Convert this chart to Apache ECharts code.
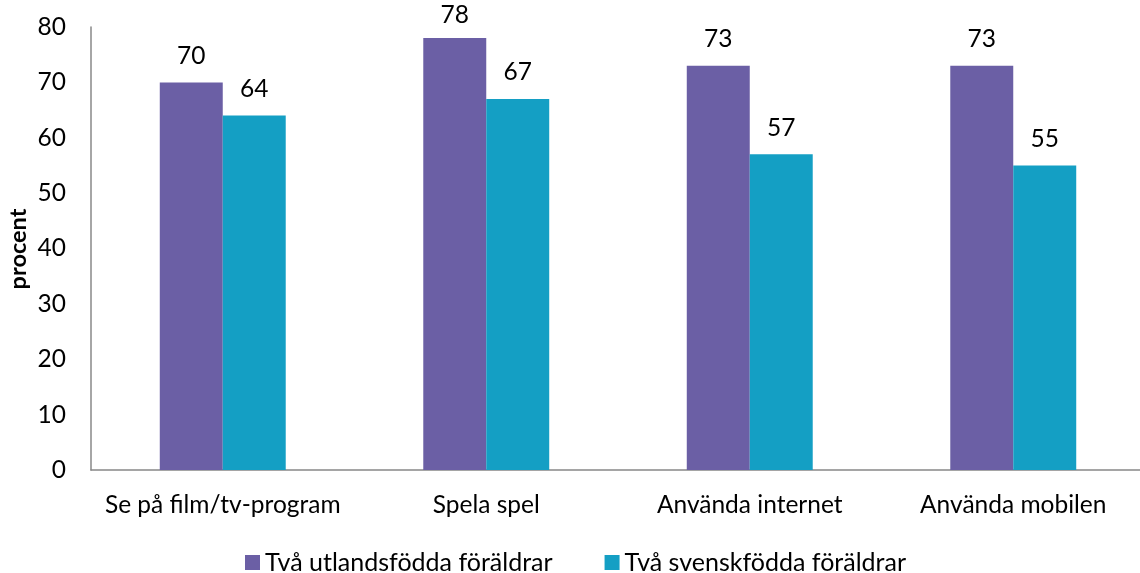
<!DOCTYPE html>
<html><head><meta charset="utf-8">
<script src="https://cdn.jsdelivr.net/npm/echarts@6/dist/echarts.min.js"></script>
<style>html,body{margin:0;padding:0;background:#fff}#c{width:1140px;height:573px}</style>
</head><body><div id="c"></div>
<script>
const categories = ['Se på film/tv-program', 'Spela spel', 'Använda internet', 'Använda mobilen'];
const seriesNames = ['Två utlandsfödda föräldrar', 'Två svenskfödda föräldrar'];
const utlandsfodda = [70, 78, 73, 73];
const svenskfodda = [64, 67, 57, 55];
const yTicks = [0, 10, 20, 30, 40, 50, 60, 70, 80];
const yAxisTitle = 'procent';
const FONT = 'Lato';
const FS = 24.5;
const chart = echarts.init(document.getElementById('c'), null, {renderer: 'canvas'});
const labelStyle = {show: true, position: 'top', color: '#000', fontFamily: FONT, fontSize: FS, distance: 14};
const clampTop = function (p) { if (p.labelRect && p.labelRect.y < 3) return {dy: 3 - p.labelRect.y}; };
chart.setOption({
  animation: false,
  textStyle: {fontFamily: FONT},
  grid: {left: 91, right: -5, top: 27, bottom: 103, containLabel: false, outerBoundsMode: 'none'},
  legend: {
    bottom: -2, left: 245, itemWidth: 15, itemHeight: 15, itemGap: 52, padding: 0,
    icon: 'rect',
    textStyle: {fontFamily: FONT, fontSize: 25, color: '#000'},
    data: seriesNames
  },
  graphic: [{
    type: 'text', x: 18, y: 249, rotation: Math.PI / 2,
    style: {text: yAxisTitle, fontFamily: FONT, fontSize: 23.5, fontWeight: 'bold', fill: '#000', align: 'center', verticalAlign: 'middle'}
  }],
  xAxis: {
    type: 'category', data: categories,
    axisLine: {lineStyle: {color: '#888', width: 1.5}},
    axisTick: {show: false},
    axisLabel: {color: '#000', fontFamily: FONT, fontSize: FS, margin: 23, interval: 0}
  },
  yAxis: {
    type: 'value', min: yTicks[0], max: yTicks[yTicks.length - 1], interval: 10,
    axisLine: {show: true, lineStyle: {color: '#888', width: 1.5}},
    axisTick: {show: false},
    splitLine: {show: false},
    axisLabel: {color: '#000', fontFamily: FONT, fontSize: FS, margin: 25}
  },
  series: [
    {name: seriesNames[0], type: 'bar', data: utlandsfodda, barWidth: '23.9%', barGap: '0%',
     itemStyle: {color: '#6B5FA5'}, label: labelStyle, labelLayout: clampTop},
    {name: seriesNames[1], type: 'bar', data: svenskfodda, barWidth: '23.9%', barGap: '0%',
     itemStyle: {color: '#149FC4'}, label: labelStyle, labelLayout: clampTop}
  ]
});
</script></body></html>
